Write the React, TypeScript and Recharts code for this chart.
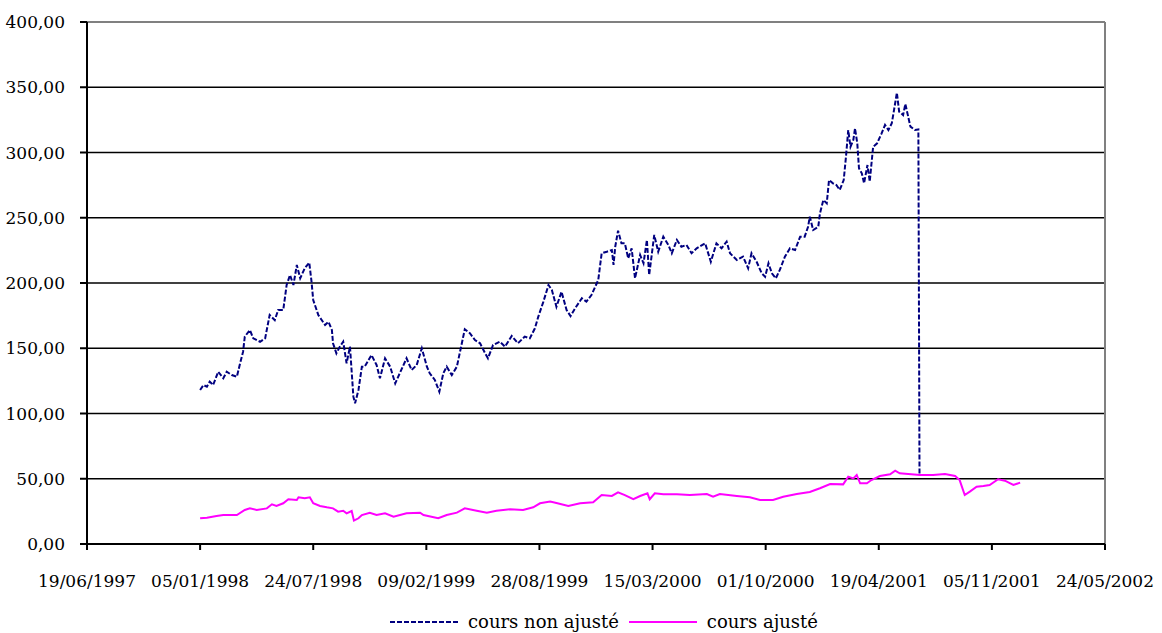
import { LineChart, Line, XAxis, YAxis, CartesianGrid, ReferenceLine, Legend } from "recharts";

// days counted from 19/06/1997
const BASE_DATE = Date.UTC(1997, 5, 19);
const xTicks = [0, 200, 400, 600, 800, 1000, 1200, 1400, 1600, 1800];
const yTicks = [0, 50, 100, 150, 200, 250, 300, 350, 400];

const rawDays = [
  200, 206, 212, 217, 223, 232, 241, 247, 256, 265, 270, 276, 279, 288, 294, 306, 315, 323, 332, 338,
  347, 353, 359, 365, 371, 377, 385, 393, 397, 400, 409, 415, 421, 427, 433, 435, 441, 447, 453, 459,
  465, 471, 474, 480, 486, 491, 503, 512, 518, 527, 536, 545, 553, 565, 574, 583, 592, 601, 606, 615,
  623, 630, 636, 645, 654, 659, 668, 677, 686, 695, 704, 709, 718, 730, 739, 751, 762, 774, 783, 792,
  798, 807, 816, 822, 830, 839, 848, 855, 863, 875, 883, 892, 904, 910, 919, 928, 931, 934, 939, 945,
  951, 957, 963, 969, 978, 984, 990, 994, 1003, 1010, 1019, 1028, 1034, 1043, 1051, 1060, 1069, 1078, 1093, 1103,
  1113, 1122, 1131, 1137, 1149, 1160, 1169, 1175, 1184, 1193, 1199, 1205, 1211, 1218, 1225, 1234, 1243, 1252, 1261, 1269,
  1275, 1278, 1284, 1293, 1296, 1302, 1308, 1312, 1319, 1325, 1331, 1338, 1342, 1346, 1350, 1355, 1358, 1362, 1365, 1370,
  1374, 1380, 1384, 1390, 1397, 1405, 1411, 1417, 1423, 1427, 1432, 1436, 1443, 1447, 1452, 1456, 1464, 1470, 1472,
];
const rawValues = [
  118, 121.8, 120.5, 124.4, 121.8, 132, 127, 132, 129.5, 128.2, 137.2, 147.4, 158.9, 164, 157.6, 155, 157.6, 175.5, 171.6, 179.3,
  179.3, 198.5, 206.1, 198.5, 213.8, 203.6, 211.3, 215.6, 201, 187, 175.5, 171.6, 167.8, 170.3, 164, 153.8, 146.1, 151.2, 155, 138.5,
  151.2, 112.9, 107.8, 118, 135.9, 135.9, 144.8, 137.2, 127, 142.3, 135.9, 123.1, 130.8, 142.3, 133.3, 137.2, 150, 135.9, 130.8, 125.7,
  116.7, 130.8, 135.9, 129.5, 135.9, 146.1, 164.5, 161.5, 156.3, 153.8, 146.1, 142.3, 152.5, 155, 151.2, 159.4, 153.8, 158.9, 157.6, 165.3,
  174.2, 185.7, 198.5, 194.6, 181.8, 193.3, 179.3, 174.7, 180.6, 188.3, 185.7, 190.8, 202.3, 222.8, 224, 225.3, 213.8, 227.8, 240.1, 230.4,
  230.4, 218.9, 226.6, 203.6, 221.5, 215.1, 233, 206.1, 236.8, 224, 235.5, 229.1, 222.8, 233, 227.8, 229.1, 222.8, 226.6, 230.4, 216.3,
  230.4, 226.6, 231.7, 222.8, 217.6, 220.2, 211.3, 222.8, 216.3, 207.4, 204.8, 215.1, 207.4, 203.6, 210, 220.2, 226.6, 225.3, 235.5, 235.5,
  243.1, 250.8, 240.6, 243.1, 253.4, 263.6, 261.1, 278.9, 276.4, 275.1, 271.3, 278.9, 296.8, 317.2, 304.4, 309.6, 318.5, 307, 287.9, 284.1,
  276.4, 290.4, 277.7, 304.4, 307, 314.7, 321.1, 317.2, 322.4, 332.6, 345.8, 331.3, 328.7, 337.2, 327.4, 319.8, 317.2, 317.7, 54,
];

const adjDays = [
  200, 212, 229, 241, 265, 279, 288, 300, 318, 327, 335, 347, 356, 371, 374, 385, 394, 400, 412, 424,
  435, 444, 453, 459, 468, 472, 480, 486, 500, 512, 527, 542, 565, 589, 595, 621, 636, 654, 668, 689,
  707, 724, 748, 771, 789, 801, 819, 830, 851, 872, 895, 910, 928, 939, 951, 966, 978, 991, 995, 1004,
  1019, 1043, 1066, 1096, 1107, 1119, 1149, 1172, 1190, 1213, 1231, 1255, 1278, 1296, 1314, 1337, 1346, 1355, 1361, 1367,
  1379, 1387, 1402, 1420, 1429, 1437, 1452, 1473, 1496, 1517, 1535, 1543, 1552, 1561, 1573, 1585, 1596, 1611, 1623, 1638,
  1650,
];
const adjValues = [
  19.7, 20.2, 21.5, 22.2, 22.2, 26.1, 27.3, 26.1, 27.3, 30.4, 29.1, 31.2, 34.3, 33.7, 35.8, 35, 35.8, 31.2, 29.1, 28.1,
  27.3, 24.8, 25.5, 23.5, 25.3, 17.9, 19.7, 22.2, 24, 22.2, 23.5, 20.9, 23.5, 24, 22.2, 19.7, 22.2, 24, 27.3, 25.5,
  24, 25.5, 26.6, 26.1, 28.1, 31.2, 32.6, 31.4, 29.1, 31.2, 32, 37.5, 36.8, 39.6, 37.5, 34.3, 36.8, 38.8, 34.3, 38.8,
  38.1, 38.1, 37.5, 38.3, 36.2, 38.3, 36.8, 35.8, 33.7, 33.7, 36.2, 38.3, 39.8, 42.7, 46, 45.7, 51.6, 50.3, 52.9, 46.5,
  46.5, 49, 52.1, 53.4, 56.2, 54.2, 53.6, 52.9, 52.9, 53.6, 52.1, 49, 37.5, 40.1, 43.9, 44.4, 45.2, 49.6, 48.5, 45.2,
  47,
];

const rawData = rawDays.map((d, i) => ({ d, v: rawValues[i] }));
const adjData = adjDays.map((d, i) => ({ d, v: adjValues[i] }));

const pad = (n: number) => (n < 10 ? "0" + n : "" + n);
const formatDate = (days: number) => {
  const dt = new Date(BASE_DATE + days * 86400000);
  return `${pad(dt.getUTCDate())}/${pad(dt.getUTCMonth() + 1)}/${dt.getUTCFullYear()}`;
};
const formatValue = (v: number) => v.toFixed(2).replace(".", ",");

const FONT = "'DejaVu Serif'";

const renderLegend = () => (
  <div style={{ display: "flex", alignItems: "center", fontFamily: FONT, fontSize: 18, color: "#000" }}>
    <svg width={72} height={10}>
      <line x1={0} y1={5} x2={70} y2={5} stroke="#000080" strokeWidth={2} strokeDasharray="5 2" />
    </svg>
    <span style={{ marginLeft: 6 }}>cours non ajusté</span>
    <svg width={70} height={10} style={{ marginLeft: 10 }}>
      <line x1={0} y1={5} x2={68} y2={5} stroke="#FF00FF" strokeWidth={2} />
    </svg>
    <span style={{ marginLeft: 8 }}>cours ajusté</span>
  </div>
);

export default function App() {
  return (
    <div style={{ position: "absolute", top: 0, left: 0, background: "#fff", fontFamily: FONT }}>
      <LineChart
        width={1162}
        height={633}
        margin={{ top: 22, right: 57, left: 0, bottom: 0 }}
        style={{ fontFamily: FONT }}
      >
        <CartesianGrid vertical={false} stroke="#000" strokeWidth={1.5} />
        <XAxis
          type="number"
          dataKey="d"
          domain={[0, 1800]}
          ticks={xTicks}
          tickFormatter={formatDate}
          height={89}
          tickSize={6}
          tickMargin={25}
          axisLine={{ stroke: "#000", strokeWidth: 2 }}
          tickLine={{ stroke: "#000", strokeWidth: 2 }}
          tick={{ fill: "#000", fontSize: 17, fontFamily: FONT }}
          interval={0}
        />
        <YAxis
          type="number"
          domain={[0, 400]}
          ticks={yTicks}
          tickFormatter={formatValue}
          width={87}
          tickSize={7}
          tickMargin={15}
          axisLine={{ stroke: "#000", strokeWidth: 2 }}
          tickLine={{ stroke: "#000", strokeWidth: 2 }}
          tick={{ fill: "#000", fontSize: 17, fontFamily: FONT }}
          interval={0}
        />
        <ReferenceLine y={400} stroke="#808080" strokeWidth={2} />
        <ReferenceLine x={1800} stroke="#808080" strokeWidth={2} />
        <Line
          data={rawData}
          dataKey="v"
          name="cours non ajusté"
          type="linear"
          stroke="#000080"
          strokeWidth={2}
          strokeDasharray="5 2"
          dot={false}
          isAnimationActive={false}
        />
        <Line
          data={adjData}
          dataKey="v"
          name="cours ajusté"
          type="linear"
          stroke="#FF00FF"
          strokeWidth={2}
          dot={false}
          isAnimationActive={false}
        />
        <Legend
          verticalAlign="middle"
          align="center"
          layout="horizontal"
          content={renderLegend}
          wrapperStyle={{ top: 611, left: 390, width: "auto" }}
        />
      </LineChart>
    </div>
  );
}
